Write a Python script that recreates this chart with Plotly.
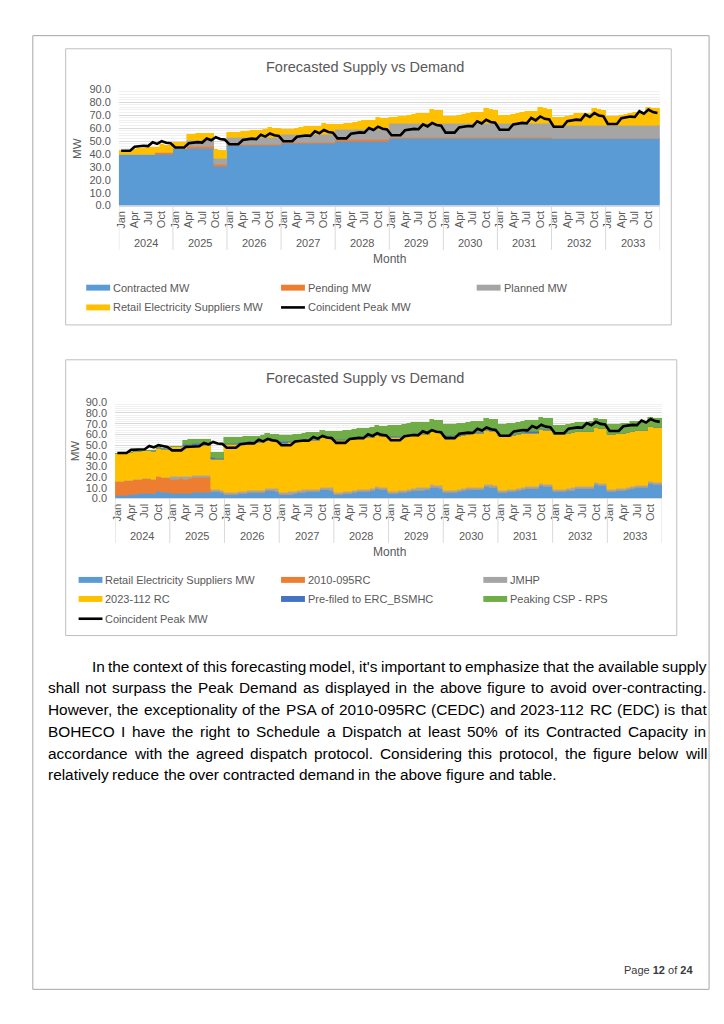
import plotly.graph_objects as go

W, H = 724, 1024

# ---------------- data ----------------
years = [str(y) for y in range(2024, 2034)]
tick_month_labels = ["Jan", "Apr", "Jul", "Oct"]

contracted_mw = ([40.0] * 12 + [44.5] * 9 + [30.5] * 3 + [46.5] * 12 + [48.0] * 12 +
                 [50.0] * 12 + [52.0] * 60)
pending_mw = ([0.0] * 8 + [1.0] * 4 + [0.0] * 3 + [1.2] * 9 + [1.2] * 72 + [0.0] * 24)
planned_mw = ([0.0] * 12 + [0.0] * 3 + [4.5] * 6 + [5.0] * 3 + [5.2] * 12 + [5.8] * 12 +
              [7.8] * 12 + [10.3] * 36 + [10.0] * 24)
res_mw = [
    2.7, 2.7, 3.0, 3.5, 4.0, 4.5, 4.8, 5.0, 4.5, 6.5, 6.0, 5.8,
    4.5, 4.5, 4.7, 4.6, 5.0, 5.6, 5.6, 5.6, 5.6, 6.6, 6.3, 6.1,
    3.9, 3.9, 4.1, 4.4, 4.9, 5.4, 5.7, 5.7, 5.9, 7.9, 7.3, 7.1,
    4.0, 4.0, 4.3, 4.8, 5.5, 6.2, 6.5, 6.5, 6.7, 8.8, 8.2, 8.0,
    4.0, 4.2, 4.5, 5.0, 5.8, 6.5, 7.0, 7.0, 7.2, 9.3, 8.6, 8.4,
    5.1, 5.1, 5.4, 6.0, 6.7, 7.5, 8.0, 8.0, 8.2, 10.8, 10.1, 9.9,
    5.5, 5.5, 5.8, 6.4, 7.2, 8.2, 8.7, 8.7, 8.9, 11.5, 10.8, 10.6,
    6.1, 6.1, 6.4, 7.0, 7.8, 8.7, 9.2, 9.2, 9.4, 12.5, 11.6, 11.4,
    6.4, 6.4, 6.7, 7.3, 8.1, 9.1, 9.6, 9.6, 9.8, 13.0, 12.2, 12.0,
    7.0, 7.0, 7.3, 7.9, 8.8, 9.8, 10.3, 10.3, 10.5, 14.3, 13.3, 13.0,
]
peak_mw = [
    42.5, 42.5, 42.5, 45.5, 45.9, 46.3, 46.1, 49.1, 47.8, 49.9, 48.7, 48.2,
    45.0, 45.0, 45.0, 48.2, 48.6, 49.1, 48.8, 52.0, 50.6, 52.9, 51.5, 51.1,
    47.5, 47.5, 47.5, 50.8, 51.3, 51.8, 51.5, 54.9, 53.4, 55.8, 54.4, 53.9,
    49.8, 49.8, 49.8, 53.3, 53.8, 54.3, 54.0, 57.5, 56.0, 58.5, 57.0, 56.5,
    52.0, 52.0, 52.0, 55.6, 56.2, 56.7, 56.4, 60.1, 58.5, 61.1, 59.5, 59.0,
    54.5, 54.5, 54.5, 58.3, 58.9, 59.4, 59.1, 62.9, 61.3, 64.0, 62.4, 61.9,
    56.5, 56.5, 56.5, 60.5, 61.0, 61.6, 61.3, 65.3, 63.6, 66.4, 64.7, 64.1,
    58.7, 58.7, 58.7, 62.8, 63.4, 64.0, 63.7, 67.8, 66.0, 69.0, 67.2, 66.6,
    61.0, 61.0, 61.0, 65.3, 65.9, 66.5, 66.2, 70.5, 68.6, 71.7, 69.8, 69.2,
    63.2, 63.2, 63.2, 67.6, 68.3, 68.9, 68.6, 73.0, 71.1, 74.3, 72.4, 71.7,
]

rc2010_mw = [13.8] * 12 + [13.8] * 9 + [0.0] * 3 + [0.0] * 96
jmhp_mw = [0.0] * 12 + [2.0] * 108
rc2023_mw = ([26.2] * 12 + [28.7] * 9 + [28.5] * 3 + [44.5] * 12 + [46.0] * 12 +
             [48.0] * 12 + [50.0] * 36 + [51.5] * 24)
prefiled_mw = ([0.0] * 8 + [1.0] * 4 + [0.0] * 3 + [1.2] * 9 + [1.2] * 72 + [0.0] * 24)
peaking_mw = ([0.0] * 12 + [0.0] * 3 + [4.5] * 6 + [5.0] * 3 + [5.2] * 12 + [5.8] * 12 +
              [7.8] * 12 + [10.3] * 36 + [8.5] * 24)

months = list(range(len(peak_mw)))

FONT = "Liberation Sans"
TXT = "#595959"
BLUE, ORANGE, GREY, YELLOW, DKBLUE, GREEN = "#5B9BD5", "#ED7D31", "#A5A5A5", "#FFC000", "#4472C4", "#70AD47"


def px(x):
    return x / W


def py(y):
    return 1 - y / H


fig = go.Figure()


def add_bar(name, vals, color, xa, ya):
    fig.add_trace(go.Bar(name=name, x=months, y=vals, xaxis=xa, yaxis=ya,
                         marker=dict(color=color, line=dict(color=color, width=0.6)),
                         width=1.0, showlegend=False, hoverinfo="skip"))


def add_line(vals, xa, ya):
    fig.add_trace(go.Scatter(name="Coincident Peak MW", x=months, y=vals, xaxis=xa, yaxis=ya,
                             mode="lines", line=dict(color="#000000", width=2.6),
                             showlegend=False, hoverinfo="skip"))


add_bar("Contracted MW", contracted_mw, BLUE, "x", "y")
add_bar("Pending MW", pending_mw, ORANGE, "x", "y")
add_bar("Planned MW", planned_mw, GREY, "x", "y")
add_bar("Retail Electricity Suppliers MW", res_mw, YELLOW, "x", "y")
add_line(peak_mw, "x", "y")
add_bar("Retail Electricity Suppliers MW", res_mw, BLUE, "x2", "y2")
add_bar("2010-095RC", rc2010_mw, ORANGE, "x2", "y2")
add_bar("JMHP", jmhp_mw, GREY, "x2", "y2")
add_bar("2023-112 RC", rc2023_mw, YELLOW, "x2", "y2")
add_bar("Pre-filed to ERC_BSMHC", prefiled_mw, DKBLUE, "x2", "y2")
add_bar("Peaking CSP - RPS", peaking_mw, GREEN, "x2", "y2")
add_line(peak_mw, "x2", "y2")

tickvals = list(range(0, 120, 3))
ticktext = tick_month_labels * 10

charts = [
    dict(xa="xaxis", ya="yaxis", xr="x", left=115.5, right=659.3, top=84.3, bottom=202.0,
         box=(62, 43.3, 671, 322.7), title_y=61.7, year_y=240.0, sep_end=246.7,
         month_y=256.0, mw=(74, 144)),
    dict(xa="xaxis2", ya="yaxis2", xr="x2", left=111.7, right=661.7, top=401.0, bottom=498.3,
         box=(62, 358.0, 676.5, 637.0), title_y=376.7, year_y=536.7, sep_end=543.3,
         month_y=552.7, mw=(71, 450)),
]

layout_axes = {}
shapes = []
annotations = []


def ann(text, x, y, size, color=TXT, xanchor="center", yanchor="middle", angle=0,
        xref="paper", yref="paper", family=FONT):
    annotations.append(dict(text=text, x=x, y=y, xref=xref, yref=yref, showarrow=False,
                            xanchor=xanchor, yanchor=yanchor, textangle=angle,
                            font=dict(family=family, size=size, color=color)))


for i, c in enumerate(charts):
    anchor_y = "y" if i == 0 else "y2"
    anchor_x = "x" if i == 0 else "x2"
    layout_axes[c["xa"]] = dict(domain=[px(c["left"]), px(c["right"])], range=[-0.5, 119.5],
                                anchor=anchor_y, tickmode="array", tickvals=tickvals,
                                ticktext=ticktext, tickangle=-90, showgrid=False,
                                zeroline=False, showline=True, linecolor="#D9D9D9",
                                linewidth=1, ticks="", fixedrange=True,
                                tickfont=dict(family=FONT, size=11, color=TXT))
    layout_axes[c["ya"]] = dict(domain=[py(c["bottom"]), py(c["top"])], range=[0, 90],
                                anchor=anchor_x, dtick=10, tickformat=".1f",
                                showgrid=True, gridcolor="#D9D9D9", gridwidth=1,
                                minor=dict(dtick=2, showgrid=True, gridcolor="#F0F0F0"),
                                zeroline=False, showline=False, ticks="",
                                ticklabelstandoff=7, fixedrange=True,
                                tickfont=dict(family=FONT, size=11, color=TXT))
    x0, y0, x1, y1 = c["box"]
    shapes.append(dict(type="rect", xref="paper", yref="paper", x0=px(x0), x1=px(x1),
                       y0=py(y1), y1=py(y0), line=dict(color="#BFBFBF", width=1)))
    ann("Forecasted Supply vs Demand", px(363), py(c["title_y"]), 14.5)
    for k in range(11):
        xv = -0.5 + 12 * k
        shapes.append(dict(type="line", xref=c["xr"], yref="paper", x0=xv, x1=xv,
                           y0=py(c["bottom"]), y1=py(c["sep_end"]),
                           line=dict(color="#D9D9D9", width=1)))
    for k, yr in enumerate(years):
        ann(yr, 5.5 + 12 * k, py(c["year_y"]), 11, xref=c["xr"])
    ann("Month", px(388), py(c["month_y"]), 12)
    ann("MW", px(c["mw"][0]), py(c["mw"][1]), 11.5, angle=-90)


def legend_item(label, color, x, y, kind="box"):
    if kind == "box":
        shapes.append(dict(type="rect", xref="paper", yref="paper", x0=px(x), x1=px(x + 24),
                           y0=py(y + 3), y1=py(y - 3), fillcolor=color, line=dict(width=0)))
    else:
        shapes.append(dict(type="line", xref="paper", yref="paper", x0=px(x), x1=px(x + 24),
                           y0=py(y), y1=py(y), line=dict(color=color, width=2.6)))
    ann(label, px(x + 25), py(y), 11, xanchor="left")


legend_item("Contracted MW", BLUE, 82.7, 285)
legend_item("Pending MW", ORANGE, 278.6, 285)
legend_item("Planned MW", GREY, 475.3, 285)
legend_item("Retail Electricity Suppliers MW", YELLOW, 82.7, 305)
legend_item("Coincident Peak MW", "#000000", 278.6, 305, kind="line")

legend_item("Retail Electricity Suppliers MW", BLUE, 75, 580.7)
legend_item("2010-095RC", ORANGE, 278.6, 580.7)
legend_item("JMHP", GREY, 482, 580.7)
legend_item("2023-112 RC", YELLOW, 75, 600)
legend_item("Pre-filed to ERC_BSMHC", DKBLUE, 278.6, 600)
legend_item("Peaking CSP - RPS", GREEN, 482, 600)
legend_item("Coincident Peak MW", "#000000", 75, 620, kind="line")

# page border
shapes.append(dict(type="rect", xref="paper", yref="paper", x0=px(29), x1=px(709),
                   y0=py(995), y1=py(30), line=dict(color="#A6A6A6", width=1)))

# paragraph (justified, word by word; Arial / Liberation Sans metrics)
AW = {" ": 278, "%": 889, "'": 191, "(": 333, ")": 333, ",": 278, "-": 333, ".": 278, "_": 556,
      "A": 667, "B": 667, "C": 722, "D": 722, "E": 667, "F": 611, "G": 778, "H": 722, "I": 278,
      "J": 500, "K": 667, "L": 556, "M": 833, "N": 722, "O": 778, "P": 667, "Q": 778, "R": 722,
      "S": 667, "T": 611, "U": 722, "V": 667, "W": 944, "X": 667, "Y": 667, "Z": 611,
      "a": 556, "b": 556, "c": 500, "d": 556, "e": 556, "f": 278, "g": 556, "h": 556, "i": 222,
      "j": 222, "k": 500, "l": 222, "m": 833, "n": 556, "o": 556, "p": 556, "q": 556, "r": 333,
      "s": 500, "t": 278, "u": 556, "v": 500, "w": 722, "x": 500, "y": 500, "z": 500}
for d in "0123456789":
    AW[d] = 556

paragraph_lines = [
    "In the context of this forecasting model, it's important to emphasize that the available supply",
    "shall not surpass the Peak Demand as displayed in the above figure to avoid over-contracting.",
    "However, the exceptionality of the PSA of 2010-095RC (CEDC) and 2023-112 RC (EDC) is that",
    "BOHECO I have the right to Schedule a Dispatch at least 50% of its Contracted Capacity in",
    "accordance with the agreed dispatch protocol. Considering this protocol, the figure below will",
    "relatively reduce the over contracted demand in the above figure and table.",
]
PSIZE = 15.4
TEXT_L, TEXT_R, INDENT_L = 44.0, 706.0, 88.0
LINE0, LSTEP = 668.0, 22.0


def tw(s):
    return sum(AW.get(ch, 556) for ch in s) / 1000.0 * PSIZE


for li, line in enumerate(paragraph_lines):
    words = line.split(" ")
    left = INDENT_L if li == 0 else TEXT_L
    widths = [tw(w) for w in words]
    if li == len(paragraph_lines) - 1:
        gap = tw(" ")
    else:
        gap = (TEXT_R - left - sum(widths)) / (len(words) - 1)
    xpos = left
    yv = LINE0 + LSTEP * li
    for w, wd in zip(words, widths):
        ann(w, px(xpos - 2), py(yv), PSIZE, color="#000000", xanchor="left")
        xpos += wd + gap

# footer
ann("Page <b>12</b> of <b>24</b>", px(695), py(975), 11, color="#3A3A3A", xanchor="right")

fig.update_layout(
    width=W, height=H, margin=dict(l=0, r=0, t=0, b=0),
    paper_bgcolor="white", plot_bgcolor="white",
    barmode="stack", bargap=0, showlegend=False,
    font=dict(family=FONT, color=TXT),
    shapes=shapes, annotations=annotations,
    **layout_axes,
)

fig.write_html("out.html", config={"displayModeBar": False},
               post_script="document.body.style.margin='0';")
